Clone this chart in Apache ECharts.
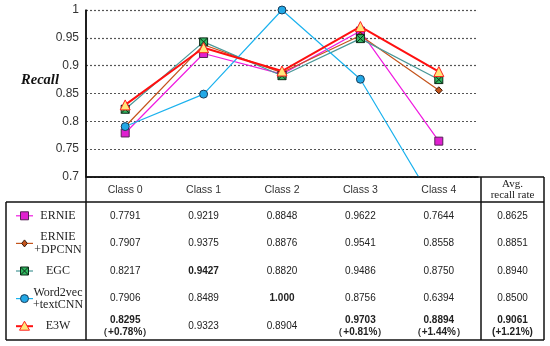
<!DOCTYPE html>
<html><head><meta charset="utf-8">
<script src="https://cdn.jsdelivr.net/npm/echarts@6/dist/echarts.min.js"></script>
<style>html,body{margin:0;padding:0;background:#fff}#c{width:550px;height:346px}</style>
</head><body><div id="c"></div>
<script>
const classes = ['Class 0', 'Class 1', 'Class 2', 'Class 3', 'Class 4'];
const methodNames = ['ERNIE', 'ERNIE +DPCNN', 'EGC', 'Word2vec +textCNN', 'E3W'];
const ernie = [0.7791, 0.9219, 0.8848, 0.9622, 0.7644];
const dpcnn = [0.7907, 0.9375, 0.8876, 0.9541, 0.8558];
const egc = [0.8217, 0.9427, 0.8820, 0.9486, 0.8750];
const w2v = [0.7906, 0.8489, 1.000, 0.8756, 0.6394];
const e3w = [0.8295, 0.9323, 0.8904, 0.9703, 0.8894];
const avgRecall = [0.8625, 0.8851, 0.8940, 0.8500, 0.9061];
const e3wGain = ['+0.78%', null, null, '+0.81%', '+1.44%'];
const avgGain = '+1.21%';
const yTicks = [0.7, 0.75, 0.8, 0.85, 0.9, 0.95, 1];
// bold cells: [row, col]
const boldCells = [[2, 1], [3, 2], [4, 0], [4, 3], [4, 4], [4, 5]];
const cellText = [
  ['0.7791', '0.9219', '0.8848', '0.9622', '0.7644', '0.8625'],
  ['0.7907', '0.9375', '0.8876', '0.9541', '0.8558', '0.8851'],
  ['0.8217', '0.9427', '0.8820', '0.9486', '0.8750', '0.8940'],
  ['0.7906', '0.8489', '1.000', '0.8756', '0.6394', '0.8500'],
  ['0.8295', '0.9323', '0.8904', '0.9703', '0.8894', '0.9061']
];

const xBoxPath = 'M0,0L10,0L10,10L0,10Z M0,0L10,10 M10,0L0,10';
const allData = [ernie, dpcnn, egc, w2v, e3w];
const styles = [
  {color: '#f01ce0', symbol: 'rect', size: 8, fill: '#e020d0', border: '#552255', width: 1.2},
  {color: '#c4541c', symbol: 'diamond', size: 7, fill: '#c4541c', border: '#3a1a0a', width: 1.2},
  {color: '#4a9898', symbol: 'xbox', size: 8, fill: '#30b860', border: '#0d2a18', width: 1.2},
  {color: '#1cb2ee', symbol: 'circle', size: 8, fill: '#22a8e6', border: '#1a3d5a', width: 1.2},
  {color: '#ff1010', symbol: 'triangle', size: 10, fill: '#ffe67a', border: '#ff2020', width: 2}
];

const chart = echarts.init(document.getElementById('c'));
const series = allData.map((d, i) => ({
  name: methodNames[i],
  type: 'line',
  data: d,
  symbol: styles[i].symbol === 'xbox' ? 'path://' + xBoxPath : styles[i].symbol,
  symbolSize: styles[i].size,
  clip: true,
  z: 2 + i,
  lineStyle: {color: styles[i].color, width: styles[i].width},
  itemStyle: {color: styles[i].fill, borderColor: styles[i].border, borderWidth: 1},
  emphasis: {disabled: true}
}));

chart.setOption({
  animation: false,
  grid: {left: 86, right: 72, top: 10, bottom: 169, containLabel: false},
  xAxis: {
    type: 'category', data: classes, boundaryGap: true,
    axisLine: {lineStyle: {color: '#111', width: 1.5}},
    axisTick: {show: false},
    axisLabel: {margin: 8, fontSize: 10.5, color: '#333', fontFamily: 'Liberation Sans'}
  },
  yAxis: {
    type: 'value', min: 0.7, max: 1, interval: 0.05,
    axisLine: {show: true, lineStyle: {color: '#111', width: 1.5}},
    axisTick: {show: false},
    axisLabel: {margin: 7, fontSize: 12, color: '#333', fontFamily: 'Liberation Sans',
      formatter: v => String(+v.toFixed(2))},
    splitLine: {lineStyle: {color: '#555', type: [2, 2], width: 1.2}}
  },
  legend: {show: false, data: methodNames},
  series: series
});

function drawTable() {
  const L = 6, A = 86, AV = 481, R = 544, T = 177, H = 202, B = 340;
  const rowH = (B - H) / 5;
  const els = [];
  const line = (x1, y1, x2, y2, w) => els.push({type: 'line', silent: true, z: 10,
    shape: {x1, y1, x2, y2}, style: {stroke: '#111', lineWidth: w || 1.5}});
  line(A, T, R, T);
  line(L, H, R, H);
  line(L, B, R, B);
  line(L, H, L, B);
  line(A, 10, A, B);
  line(AV, T, AV, B);
  line(R, T, R, B);
  const colX = classes.map((c, i) => chart.convertToPixel({xAxisIndex: 0}, i));
  colX.push((AV + R) / 2);
  els.push({type: 'text', silent: true, x: colX[5], y: (T + H) / 2, z: 11,
    style: {text: 'Avg.\nrecall rate', fontFamily: 'Liberation Serif', fontSize: 11, lineHeight: 11.5,
      fill: '#222', align: 'center', verticalAlign: 'middle'}});
  for (let r = 0; r < 5; r++) {
    const cy = H + rowH * (r + 0.5);
    // legend entry
    const st = styles[r];
    els.push({type: 'line', silent: true, z: 11, shape: {x1: 16, y1: cy, x2: 33, y2: cy},
      style: {stroke: st.color, lineWidth: st.width}});
    const mx = 24.5, s = st.size / 2;
    const mstyle = {fill: st.fill, stroke: st.border, lineWidth: 1};
    let marker;
    if (st.symbol === 'rect' || st.symbol === 'xbox') marker = {type: 'rect', shape: {x: mx - s, y: cy - s, width: 2 * s, height: 2 * s}};
    else if (st.symbol === 'circle') marker = {type: 'circle', shape: {cx: mx, cy: cy, r: s}};
    else if (st.symbol === 'diamond') marker = {type: 'polygon', shape: {points: [[mx, cy - s], [mx + s * 0.8, cy], [mx, cy + s], [mx - s * 0.8, cy]]}};
    else marker = {type: 'polygon', shape: {points: [[mx, cy - s], [mx + s, cy + s * 0.8], [mx - s, cy + s * 0.8]]}};
    marker.silent = true; marker.z = 12; marker.style = mstyle;
    els.push(marker);
    if (st.symbol === 'xbox') {
      els.push({type: 'line', silent: true, z: 13, shape: {x1: mx - s, y1: cy - s, x2: mx + s, y2: cy + s}, style: {stroke: st.border, lineWidth: 1}});
      els.push({type: 'line', silent: true, z: 13, shape: {x1: mx + s, y1: cy - s, x2: mx - s, y2: cy + s}, style: {stroke: st.border, lineWidth: 1}});
    }
    els.push({type: 'text', silent: true, x: 58, y: cy, z: 11,
      style: {text: methodNames[r].replace(' +', '\n+'), fontFamily: 'Liberation Serif', fontSize: 12,
        lineHeight: 12.5, fill: '#222', align: 'center', verticalAlign: 'middle'}});
    for (let c = 0; c < 6; c++) {
      const bold = boldCells.some(b => b[0] === r && b[1] === c);
      let t = cellText[r][c];
      if (r === 4 && c < 5 && e3wGain[c]) t += '\n\uFF08' + e3wGain[c] + '\uFF09';
      if (r === 4 && c === 5) t += '\n(' + avgGain + ')';
      els.push({type: 'text', silent: true, x: colX[c], y: cy, z: 11,
        style: {text: t, fontFamily: 'Liberation Sans', fontSize: 10, lineHeight: 12,
          fontWeight: bold ? 'bold' : 'normal', fill: '#222', align: 'center', verticalAlign: 'middle'}});
    }
  }
  els.push({type: 'text', silent: true, x: 40, y: 80, z: 11,
    style: {text: 'Recall', fontFamily: 'Liberation Serif', fontSize: 14.5, fontWeight: 'bold',
      fontStyle: 'italic', fill: '#111', align: 'center', verticalAlign: 'middle'}});
  chart.setOption({graphic: {elements: els}});
}
drawTable();
</script></body></html>
